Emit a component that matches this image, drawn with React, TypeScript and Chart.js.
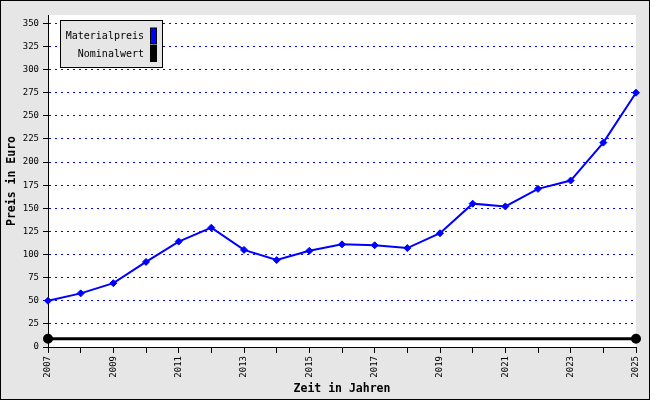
import React, { useEffect, useRef } from 'react';
import { Chart, registerables } from 'chart.js';

Chart.register(...registerables);

const years = ['2007', '2008', '2009', '2010', '2011', '2012', '2013', '2014', '2015', '2016', '2017', '2018', '2019', '2020', '2021', '2022', '2023', '2024', '2025'];
const materialpreis = [50, 58, 69, 92, 114, 129, 105, 94, 104, 111, 110, 107, 123, 155, 152, 171, 180, 221, 275];
const nominalwert = [9, null, null, null, null, null, null, null, null, null, null, null, null, null, null, null, null, null, 9];
const legendLabels = ['Materialpreis', 'Nominalwert'];
const legendColors = ['#0000ff', '#000000'];
const yMin = 0;
const yMax = 359;
const yStep = 25;

const MONO = '"DejaVu Sans Mono", monospace';
const BG = '#e6e6e6';

const backgroundPlugin = {
  id: 'bgPlugin',
  beforeDraw(chart: any) {
    const { ctx, width, height, chartArea } = chart;
    ctx.save();
    ctx.fillStyle = BG;
    ctx.fillRect(0, 0, width, height);
    ctx.fillStyle = '#ffffff';
    ctx.fillRect(chartArea.left, chartArea.top, chartArea.right - chartArea.left, chartArea.bottom - chartArea.top);
    ctx.strokeStyle = '#000000';
    ctx.lineWidth = 1;
    ctx.strokeRect(0.5, 0.5, width - 1, height - 1);
    ctx.restore();
  },
};

const legendPlugin = {
  id: 'boxLegend',
  afterDraw(chart: any) {
    const { ctx } = chart;
    ctx.save();
    ctx.fillStyle = BG;
    ctx.fillRect(60.5, 20.5, 102, 47);
    ctx.strokeStyle = '#000000';
    ctx.lineWidth = 1;
    ctx.strokeRect(60.5, 20.5, 102, 47);
    ctx.font = '10px ' + MONO;
    ctx.textAlign = 'right';
    ctx.textBaseline = 'middle';
    ctx.fillStyle = '#000000';
    const rowsY = [36.5, 54];
    legendLabels.forEach((label, i) => {
      ctx.fillText(label, 144, rowsY[i]);
      ctx.fillStyle = legendColors[i];
      ctx.fillRect(150.5, rowsY[i] - 8.5, 6, 16);
      ctx.strokeStyle = '#000000';
      ctx.strokeRect(150.5, rowsY[i] - 8.5, 6, 16);
      ctx.fillStyle = '#000000';
    });
    ctx.restore();
  },
};

export default function App() {
  const canvasRef = useRef<HTMLCanvasElement | null>(null);

  useEffect(() => {
    if (!canvasRef.current) return;
    const chart = new Chart(canvasRef.current, {
      type: 'line',
      data: {
        labels: years,
        datasets: [
          {
            label: legendLabels[0],
            data: materialpreis,
            borderColor: legendColors[0],
            backgroundColor: legendColors[0],
            borderWidth: 2,
            pointStyle: 'rectRot',
            pointRadius: 3.5,
            pointBorderWidth: 1,
            pointBackgroundColor: legendColors[0],
            pointBorderColor: legendColors[0],
            tension: 0,
            clip: false,
          },
          {
            label: legendLabels[1],
            data: nominalwert,
            borderColor: legendColors[1],
            backgroundColor: legendColors[1],
            borderWidth: 3,
            pointStyle: 'circle',
            pointRadius: 3.5,
            pointBackgroundColor: legendColors[1],
            pointBorderColor: legendColors[1],
            spanGaps: true,
            tension: 0,
            clip: false,
          },
        ],
      },
      options: {
        animation: false,
        responsive: false,
        devicePixelRatio: 1,
        layout: { padding: { left: 0, top: 15, right: 14, bottom: 0 } },
        plugins: {
          legend: { display: false },
          tooltip: { enabled: false },
        },
        scales: {
          x: {
            type: 'category',
            offset: false,
            afterFit(scale: any) {
              scale.height = 53;
            },
            grid: {
              display: true,
              drawOnChartArea: false,
              drawTicks: true,
              color: '#000000',
              tickColor: '#000000',
              tickLength: 6,
            },
            border: { display: true, color: '#000000', width: 1 },
            ticks: {
              autoSkip: false,
              maxRotation: 90,
              minRotation: 90,
              padding: 3,
              color: '#000000',
              font: { family: MONO, size: 9 },
              callback: (_v: any, idx: number) => (idx % 2 === 0 ? years[idx] : ''),
            },
            title: {
              display: true,
              text: 'Zeit in Jahren',
              color: '#000000',
              font: { family: MONO, size: 11.5, weight: 'bold' },
              padding: { top: 0, bottom: 4 },
            },
          },
          y: {
            type: 'linear',
            min: yMin,
            max: yMax,
            afterFit(scale: any) {
              scale.width = 48;
            },
            grid: {
              display: true,
              drawOnChartArea: true,
              drawTicks: true,
              color: '#0000ff',
              tickColor: '#000000',
              tickLength: 5,
              lineWidth: 1,
            },
            border: { display: true, color: '#000000', width: 1, dash: [2, 4] },
            ticks: {
              stepSize: yStep,
              includeBounds: false,
              padding: 4,
              color: '#000000',
              font: { family: MONO, size: 9 },
            },
            title: {
              display: true,
              text: 'Preis in Euro',
              color: '#000000',
              font: { family: MONO, size: 11.5, weight: 'bold' },
              padding: { top: 5, bottom: 0 },
            },
          },
        },
      },
      plugins: [backgroundPlugin, legendPlugin],
    } as any);
    return () => chart.destroy();
  }, []);

  return (
    <div style={{ position: 'absolute', left: 0, top: 0, width: 650, height: 400 }}>
      <canvas ref={canvasRef} width={650} height={400} style={{ width: 650, height: 400, display: 'block' }} />
    </div>
  );
}
